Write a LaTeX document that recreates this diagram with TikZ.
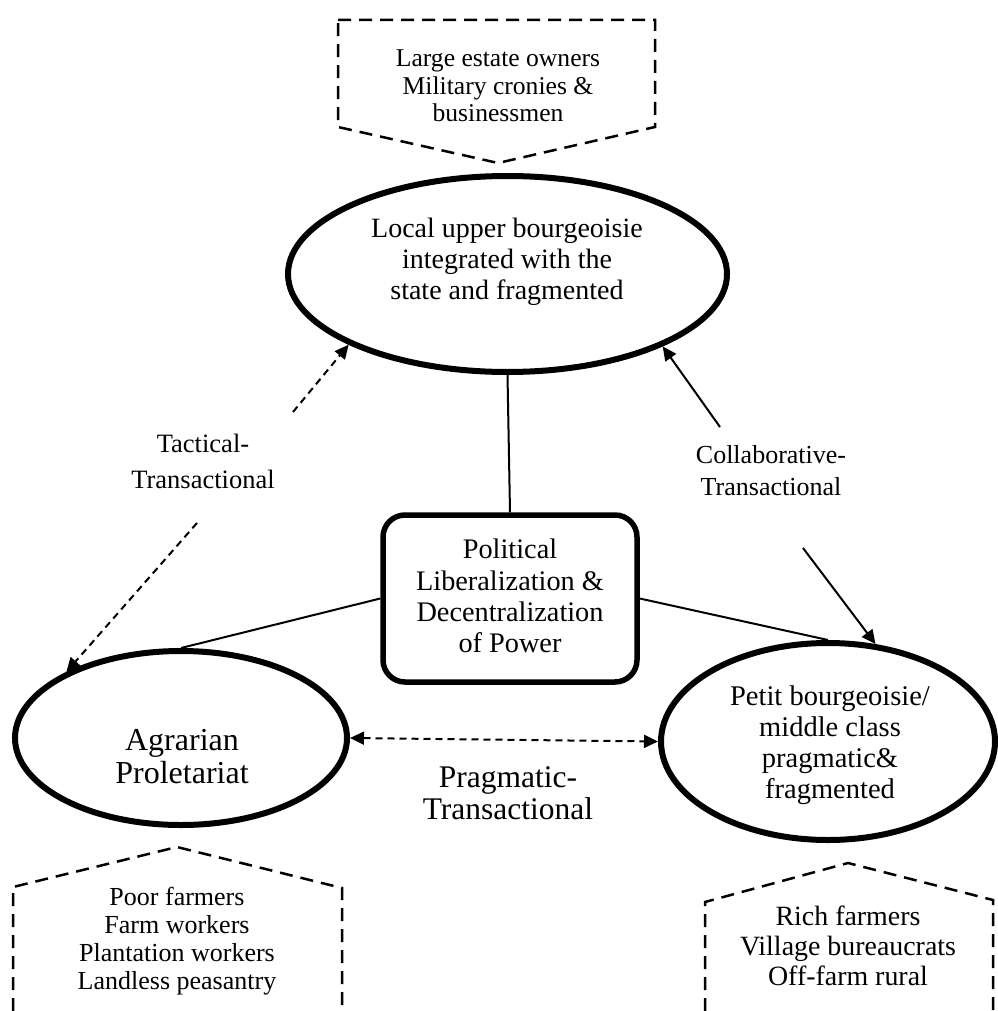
\documentclass[tikz,border=0pt]{standalone}
\usepackage{fontspec}
\setmainfont{Liberation Serif}
\usetikzlibrary{shapes.geometric,arrows.meta}
\begin{document}
\begin{tikzpicture}[x=1pt,y=-1pt,
  oval/.style={draw, ellipse, line width=6pt, inner sep=0pt},
  hub/.style={draw, rounded corners=22pt, line width=5.5pt, minimum width=254pt, minimum height=167pt, inner sep=0pt},
  txt/.style={align=center, inner sep=0pt},
  link/.style={line width=2pt},
  dlink/.style={line width=2pt, dash pattern=on 7pt off 5pt},
  tip/.style={-{Triangle[length=14pt,width=13pt]}},
  tips/.style={{Triangle[length=14pt,width=13pt]}-{Triangle[length=14pt,width=13pt]}},
  pent/.style={line width=2.5pt, dash pattern=on 13pt off 8pt, line join=miter}
]
\useasboundingbox (0,0) rectangle (997,1011);

% main nodes
\node[oval, minimum width=439pt, minimum height=196pt] (top) at (507.5,274) {};
\node[txt, font=\fontsize{28}{31}\selectfont] (toptext) at (507,262)
  {Local upper bourgeoisie\\integrated with the\\state and fragmented};

\node[oval, minimum width=332pt, minimum height=174pt] (left) at (181,738) {};
\node[txt, font=\fontsize{32}{33}\selectfont] (lefttext) at (182,757)
  {Agrarian\\Proletariat};

\node[oval, minimum width=334pt, minimum height=197pt] (right) at (828,741.5) {};
\node[txt, font=\fontsize{28.5}{31}\selectfont] (righttext) at (830,745)
  {Petit bourgeoisie/\\middle class\\pragmatic\&\\fragmented};

\node[hub] (hub) at (510,598.5) {};
\node[txt, font=\fontsize{28.3}{31.3}\selectfont] (hubtext) at (510,596)
  {Political\\Liberalization \&\\Decentralization\\of Power};

% dashed pentagons
\draw[pent] (338,20) -- (655,20) -- (655,127) -- (498,163) -- (338,127) -- cycle;
\node[txt, font=\fontsize{25.6}{27.5}\selectfont] (uppertext) at (498,86)
  {Large estate owners\\Military cronies \&\\businessmen};

\draw[pent] (13,1011) -- (13,887) -- (177,847) -- (342,888) -- (342,1011);
\node[txt, font=\fontsize{26}{28}\selectfont] (lowtext) at (177,941)
  {Poor farmers\\Farm workers\\Plantation workers\\Landless peasantry};

\draw[pent] (705,1011) -- (705,902) -- (848,863) -- (993,900) -- (993,1011);
\node[txt, font=\fontsize{27.9}{30}\selectfont] (midtext) at (848,946)
  {Rich farmers\\Village bureaucrats\\Off-farm rural};

% plain connectors
\draw[link] (top.south) -- (hub.north);
\draw[link] (hub.west) -- (left.north);
\draw[link] (hub.east) -- (right.north);

% labelled arrows
\coordinate (tacA) at (293,412);
\coordinate (tacB) at (197,523);
\draw[dlink, tip] (tacA) -- (top.204);
\draw[dlink, tip] (tacB) -- (left.150);
\node[txt, font=\fontsize{26.5}{36}\selectfont] (taclabel) at (203,461)
  {Tactical-\\Transactional};

\coordinate (colA) at (720,427);
\coordinate (colB) at (803,548);
\draw[link, tip] (colA) -- (top.335);
\draw[link, tip] (colB) -- (right.64);
\node[txt, font=\fontsize{26}{32}\selectfont] (collabel) at (771,471)
  {Collaborative-\\Transactional};

\draw[dlink, tips] (left.east) -- (right.west);
\node[txt, font=\fontsize{31.5}{31.5}\selectfont] (praglabel) at (508,793)
  {Pragmatic-\\Transactional};
\end{tikzpicture}
\end{document}
